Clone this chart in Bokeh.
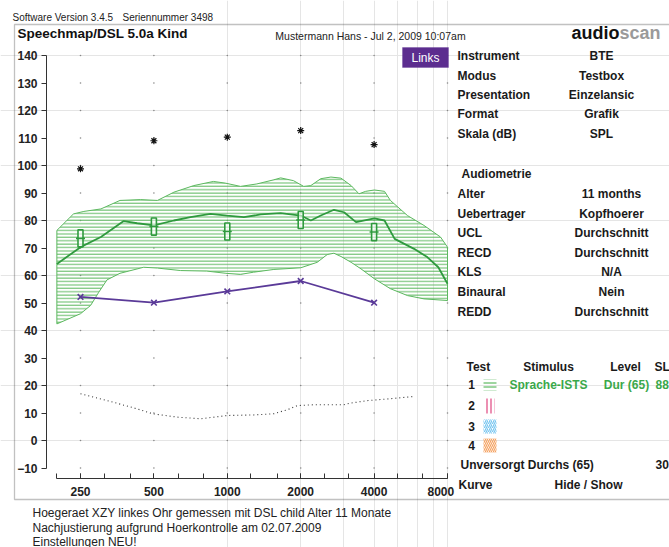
from bokeh.plotting import figure
from bokeh.models import (Range1d, FixedTicker, Label, BoxAnnotation, PrintfTickFormatter,
                          LinearAxis, LogAxis)
from bokeh.embed import file_html
from bokeh.resources import INLINE

# ---------------- data ----------------
x_major = [250, 500, 1000, 2000, 4000, 8000]
x_major_labels = ["250", "500", "1000", "2000", "4000", "8000\u00a0\u00a0\u00a0\u00a0"]
x_minor = [200, 315, 400, 630, 800, 1250, 1600, 2500, 3150, 5000, 6300]
y_ticks = [-10, 0, 10, 20, 30, 40, 50, 60, 70, 80, 90, 100, 110, 120, 130, 140]

# speech region (Sprache-ISTS) upper edge
upper_f = [200, 234, 258, 303, 363, 441, 517, 604, 729, 877, 981, 1133, 1322, 1552, 1655,
           1867, 2058, 2201, 2418, 2660, 2926, 3219, 3467, 3692, 4012, 4413, 4665, 5481,
           6407, 7487, 8000]
upper_db = [76.4, 82.4, 83.3, 84.2, 87.3, 87.6, 87.3, 90.3, 92.7, 94.2, 93.6, 92.4, 93.3, 94.8,
            95.5, 94.5, 92.4, 92.7, 95.2, 95.8, 95.4, 92.7, 89.7, 90.6, 91.1, 90.6, 87.3, 81.8,
            78.2, 74.0, 70.3]
# lower edge
lower_f = [200, 250, 275, 297, 321, 363, 454, 517, 643, 824, 987, 1133, 1282, 1552, 2000,
           2338, 2567, 2738, 2926, 3219, 3536, 4012, 4665, 5481, 6407, 8000]
lower_db = [42.4, 46.1, 49.1, 53.9, 58.4, 60.8, 63.0, 62.7, 61.8, 61.6, 60.8, 60.4, 61.2, 62.2,
            62.8, 64.8, 67.6, 68.1, 66.9, 64.8, 62.4, 58.8, 55.2, 52.7, 51.5, 50.9]
# LTASS mean
mean_f = [200, 250, 303, 376, 427, 500, 604, 706, 853, 996, 1170, 1371, 1655, 2000, 2201,
          2418, 2738, 3011, 3373, 4012, 4413, 4858, 5834, 6608, 7335, 8000]
mean_db = [64.2, 70.3, 74.0, 79.8, 79.0, 78.2, 80.0, 81.2, 82.4, 81.8, 81.2, 82.2, 82.7, 81.8,
           80.0, 81.8, 83.9, 83.0, 79.4, 80.8, 80.0, 73.3, 69.7, 66.7, 63.0, 57.0]

# DSL targets
target_f = [250, 500, 1000, 2000, 4000]
target_db = [73.5, 77.8, 76.0, 80.2, 75.8]
# UCL (asterisks)
ucl_f = [250, 500, 1000, 2000, 4000]
ucl_db = [98.8, 109.0, 110.3, 112.7, 107.6]
# hearing threshold (purple, x)
thr_f = [250, 500, 1000, 2000, 4000]
thr_db = [52.2, 50.1, 54.2, 58.0, 50.1]
# normal hearing threshold (dotted)
norm_f = [250, 322, 412, 496, 623, 778, 1000, 1281, 1546, 1765, 1940, 2257, 2996, 3200, 3758,
          4670, 5803]
norm_db = [17.0, 14.5, 11.9, 9.7, 8.5, 7.9, 9.1, 9.3, 9.7, 11.2, 12.7, 13.0, 13.0, 13.6, 14.5,
           15.2, 16.0]

info_labels = ["Instrument", "Modus", "Presentation", "Format", "Skala (dB)"]
info_values = ["BTE", "Testbox", "Einzelansic", "Grafik", "SPL"]
audio_labels = ["Alter", "Uebertrager", "UCL", "RECD", "KLS", "Binaural", "REDD"]
audio_values = ["11 months", "Kopfhoerer", "Durchschnitt", "Durchschnitt", "N/A", "Nein",
                "Durchschnitt"]
notes = ["Hoegeraet XZY linkes Ohr gemessen mit DSL child Alter 11 Monate",
         "Nachjustierung aufgrund Hoerkontrolle am 02.07.2009",
         "Einstellungen NEU!"]

# ---------------- layout ----------------
W, H = 669, 547
X250, OCT = 80.0, 73.4       # pixel position of 250 Hz, pixels per octave
Y0, DB = 440.0, 2.75         # pixel position of 0 dB, pixels per dB


def fx(px):
    return 250 * 2 ** ((px - X250) / OCT)


def fy(py):
    return (Y0 - py) / DB


FONT = "Liberation Sans"
GREEN = "#5cb85f"
DGREEN = "#2f9a3e"
PURPLE = "#5a3a98"

p = figure(width=W, height=H, x_axis_type="log", x_axis_location=None, y_axis_location=None,
           x_range=Range1d(fx(0), fx(W)), y_range=Range1d(fy(H), fy(0)),
           output_backend="svg", toolbar_location=None, min_border=0)
p.outline_line_color = None
p.background_fill_color = "white"
p.border_fill_color = "white"

# axes (fixed inside the frame)
xa = LogAxis(fixed_location=fy(478))
xa.ticker = FixedTicker(ticks=x_major, minor_ticks=x_minor + x_major)
xa.bounds = (200, 8000)
xa.formatter = PrintfTickFormatter(format="%d")
xa.major_label_overrides = {t: l for t, l in zip(x_major, x_major_labels)}
xa.major_tick_in = 5
xa.major_tick_out = 0
xa.minor_tick_in = 5
xa.minor_tick_out = 0
xa.axis_line_color = "#333333"
xa.major_tick_line_color = "#333333"
xa.minor_tick_line_color = "#333333"
xa.major_label_text_font = FONT
xa.major_label_text_font_style = "bold"
xa.major_label_text_font_size = "12px"
xa.major_label_text_color = "#222222"
xa.major_label_standoff = 6
p.add_layout(xa, "below")

ya = LinearAxis(fixed_location=fx(46))
ya.ticker = FixedTicker(ticks=y_ticks)
ya.bounds = (-10, 140)
ya.major_tick_in = 0
ya.major_tick_out = 5
ya.minor_tick_line_color = None
ya.axis_line_color = "#333333"
ya.major_tick_line_color = "#333333"
ya.major_label_text_font = FONT
ya.major_label_text_font_style = "bold"
ya.major_label_text_font_size = "12px"
ya.major_label_text_color = "#222222"
ya.major_label_standoff = 4
p.add_layout(ya, "left")

# grid dots
gx = [f for f in x_major for _ in y_ticks]
gy = [d for _ in x_major for d in y_ticks]
p.scatter(gx, gy, size=1.6, color="#888888", line_color=None)

# speech region polygon
poly_x = upper_f + lower_f[::-1]
poly_y = upper_db + lower_db[::-1]
p.patch(poly_x, poly_y, fill_alpha=0, hatch_pattern="horizontal_line", hatch_color=GREEN,
        hatch_scale=3.4, hatch_weight=1, line_color=GREEN, line_width=1)
p.line(mean_f, mean_db, line_color=DGREEN, line_width=1.8)

# targets
p.rect(target_f, target_db, width=5, width_units="screen", height=6.2, fill_color="white",
       fill_alpha=0.6, line_color=DGREEN, line_width=1.6)
p.scatter(target_f, target_db, marker="dash", size=9, line_color=DGREEN, line_width=1.6)

# UCL asterisks
p.scatter(ucl_f, ucl_db, marker="asterisk", size=7, line_color="#111111", line_width=1.2)

# thresholds
p.line(thr_f, thr_db, line_color=PURPLE, line_width=1.8)
p.scatter(thr_f, thr_db, marker="x", size=8, line_color=PURPLE, line_width=1.6)
p.line(norm_f, norm_db, line_color="#333333", line_width=1.1, line_dash="1 3")


# ---------------- annotations (page pixel positions) ----------------
def lab(px, py, text, size=12, bold=False, color="#1a1a1a", align="left", font=FONT):
    p.add_layout(Label(x=px, y=H - py, x_units="screen", y_units="screen", text=text,
                       text_font=font, text_font_size=f"{size}px",
                       text_font_style="bold" if bold else "normal", text_color=color,
                       text_align=align, text_baseline="middle"))


def box(l, t, r, b, **kw):
    p.add_layout(BoxAnnotation(left=l, right=r, top=H - t, bottom=H - b,
                               left_units="screen", right_units="screen",
                               top_units="screen", bottom_units="screen", **kw))


# outer frame
box(14, 24, 700, 499, fill_alpha=0, line_color="#333333", line_width=1.3)
# Links button
box(402, 47, 448, 67, fill_color="#5c2d8f", fill_alpha=1, line_color="#5c2d8f")
lab(425, 57.5, "Links", 12, False, "white", "center")

lab(12, 17, "Software Version 3.4.5", 10, False, "#222222")
lab(122, 17, "Seriennummer 3498", 10, False, "#222222")
lab(17, 33, "Speechmap/DSL 5.0a Kind", 13.5, True, "#111111")
lab(370, 35, "Mustermann Hans - Jul 2, 2009 10:07am", 10.5, False, "#222222", "center")
lab(571, 32, "audio", 18, True, "#111111")
lab(619, 32, "scan", 18, True, "#9a9a9a")

rows1 = [55, 75, 94, 113, 133]
for yy, a, b in zip(rows1, info_labels, info_values):
    lab(457, yy, a, 12, True)
    lab(601, yy, b, 12, True, align="center")
lab(461, 173, "Audiometrie", 12, True)
rows2 = [193, 213, 232, 252, 271, 291, 311]
for yy, a, b in zip(rows2, audio_labels, audio_values):
    lab(457, yy, a, 12, True)
    lab(611, yy, b, 12, True, align="center")

# test legend
lab(466, 366, "Test", 12, True)
lab(548, 366, "Stimulus", 12, True, align="center")
lab(625, 366, "Level", 12, True, align="center")
lab(654, 366, "SL", 12, True)
for yy, n in zip([384, 405, 426, 445], ["1", "2", "3", "4"]):
    lab(471, yy, n, 12, True, align="center")
box(483, 379, 496, 390, fill_alpha=0, line_alpha=0, hatch_pattern="horizontal_line",
    hatch_color=GREEN, hatch_scale=4, hatch_weight=1.2)
box(484, 398, 494, 413, fill_alpha=0, line_alpha=0, hatch_pattern="vertical_line",
    hatch_color="#e0447f", hatch_scale=4, hatch_weight=1.2)
box(483, 419, 496, 433, fill_alpha=0, line_alpha=0, hatch_pattern="right_diagonal_line",
    hatch_color="#78c6f0", hatch_scale=4, hatch_weight=1.2)
box(483, 438, 496, 452, fill_alpha=0, line_alpha=0, hatch_pattern="left_diagonal_line",
    hatch_color="#f5a261", hatch_scale=4, hatch_weight=1.2)
lab(548, 384, "Sprache-ISTS", 12, True, "#3aa84a", "center")
lab(626, 384, "Dur (65)", 12, True, "#3aa84a", "center")
lab(655, 384, "88", 12, True, "#3aa84a")
lab(460, 464, "Unversorgt Durchs (65)", 12, True)
lab(655, 464, "30", 12, True)
lab(458, 484, "Kurve", 12, True)
lab(588, 484, "Hide / Show", 12, True, align="center")

for yy, t in zip([512, 527, 541], notes):
    lab(32, yy, t, 12, False, "#222222")

open("out.html", "w").write(file_html(p, INLINE))
